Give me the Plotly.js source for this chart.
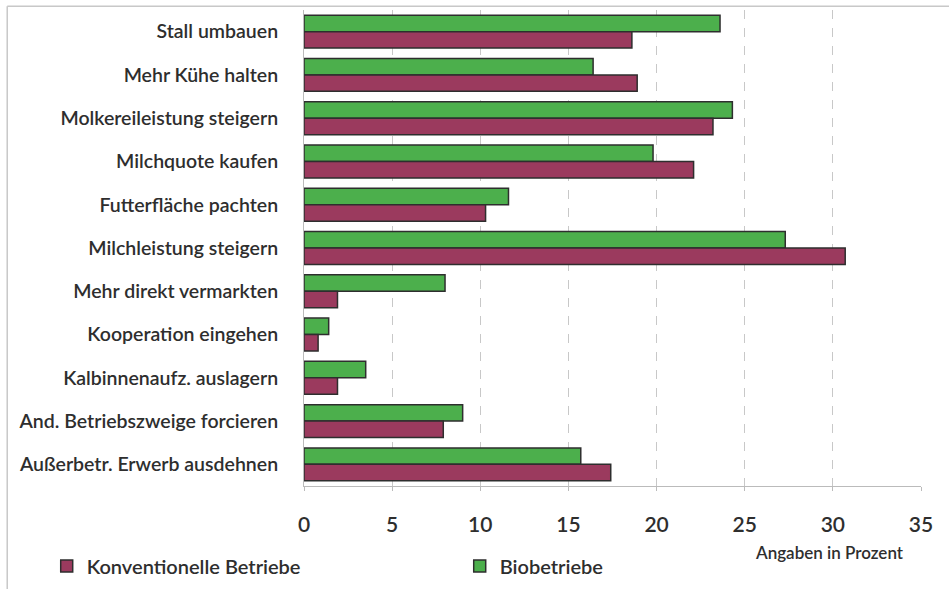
<!DOCTYPE html>
<html>
<head>
<meta charset="utf-8">
<script src="https://cdn.plot.ly/plotly-3.0.1.min.js"></script>
<style>html,body{margin:0;padding:0;background:#fff;}#chart{width:949px;height:589px;}</style>
</head>
<body>
<div id="chart"></div>
<script>
const categories = [
  "Stall umbauen",
  "Mehr Kühe halten",
  "Molkereileistung steigern",
  "Milchquote kaufen",
  "Futterfläche pachten",
  "Milchleistung steigern",
  "Mehr direkt vermarkten",
  "Kooperation eingehen",
  "Kalbinnenaufz. auslagern",
  "And. Betriebszweige forcieren",
  "Außerbetr. Erwerb ausdehnen"
];
const konventionell = [18.6, 18.9, 23.2, 22.1, 10.3, 30.7, 1.9, 0.8, 1.9, 7.9, 17.4];
const bio = [23.6, 16.4, 24.3, 19.8, 11.6, 27.3, 8.0, 1.4, 3.5, 9.0, 15.7];
const seriesNames = ["Konventionelle Betriebe", "Biobetriebe"];
const xTicks = [0, 5, 10, 15, 20, 25, 30, 35];

const FONT = "Lato, Open Sans, sans-serif";
const TXT = "#2e2e2e";
const W = 600;

const traces = [
  {
    type: "bar", orientation: "h", name: seriesNames[1],
    y: categories, x: bio,
    marker: {color: "#4caf4c", line: {color: "#2e2e2e", width: 1.5}}
  },
  {
    type: "bar", orientation: "h", name: seriesNames[0],
    y: categories, x: konventionell,
    marker: {color: "#9b3a5e", line: {color: "#2e2e2e", width: 1.5}}
  }
];

const layout = {
  width: 949, height: 589,
  margin: {l: 304, r: 28, t: 10, b: 103, autoexpand: false},
  paper_bgcolor: "#fff", plot_bgcolor: "#fff",
  barmode: "group", bargap: 0.24, bargroupgap: 0,
  font: {family: FONT, color: TXT, weight: W},
  xaxis: {
    range: [0, 35], tickvals: xTicks, ticktext: xTicks.map(String),
    showgrid: true, gridcolor: "#c8c8c8", griddash: "dash", gridwidth: 1,
    zeroline: false, showline: true, linecolor: "#bbb",
    ticks: "outside", ticklen: 4, tickcolor: "#bbb",
    tickfont: {size: 21, color: TXT, family: FONT, weight: W}, ticklabelstandoff: 16
  },
  yaxis: {
    autorange: "reversed", showgrid: false, zeroline: false,
    showline: true, linecolor: "#bbb", ticks: "",
    tickfont: {size: 19.5, color: TXT, family: FONT, weight: W}, ticklabelstandoff: 21
  },
  legend: {
    orientation: "h", traceorder: "reversed",
    x: -0.417, xanchor: "left", y: -0.127, yanchor: "top",
    entrywidth: 368, entrywidthmode: "pixels",
    font: {size: 20, color: TXT, family: FONT, weight: W},
    itemwidth: 30, bgcolor: "rgba(0,0,0,0)"
  },
  annotations: [{
    xref: "paper", yref: "paper", x: 0.8525, y: -0.139, xanchor: "center", yanchor: "middle",
    text: "Angaben in Prozent", showarrow: false,
    font: {size: 17, color: TXT, family: FONT, weight: W}
  }],
  shapes: [
    {type: "line", xref: "paper", yref: "paper", x0: -0.481, x1: 1.05, y0: 1.008, y1: 1.008,
     line: {color: "#c8c8c8", width: 1.5}},
    {type: "line", xref: "paper", yref: "paper", x0: -0.481, x1: -0.481, y0: 1.008, y1: -0.23,
     line: {color: "#c8c8c8", width: 1.5}}
  ]
};

Plotly.newPlot("chart", traces, layout, {displayModeBar: false, staticPlot: true});
</script>
</body>
</html>
